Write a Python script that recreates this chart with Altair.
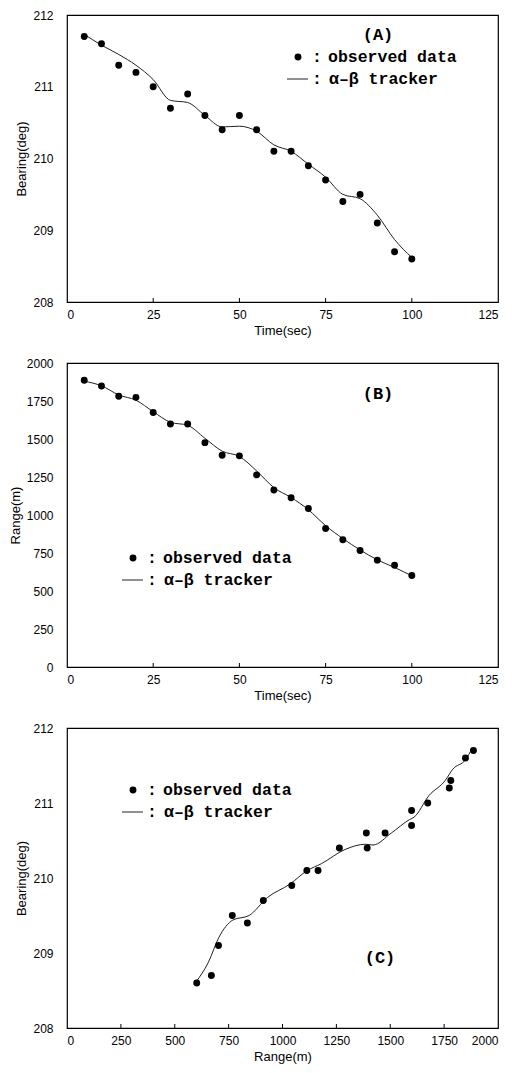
import altair as alt
import pandas as pd

# ---- data ----
time_s = [5, 10, 15, 20, 25, 30, 35, 40, 45, 50, 55, 60, 65, 70, 75, 80, 85, 90, 95, 100]
bearing_obs = [211.7, 211.6, 211.3, 211.2, 211.0, 210.7, 210.9, 210.6, 210.4, 210.6,
               210.4, 210.1, 210.1, 209.9, 209.7, 209.4, 209.5, 209.1, 208.7, 208.6]
range_obs = [1886, 1849, 1781, 1774, 1674, 1599, 1599, 1476, 1393, 1389,
             1264, 1165, 1113, 1043, 911, 837, 767, 703, 670, 602]
bearing_trk = [211.73, 211.58, 211.45, 211.30, 211.10, 210.81, 210.78, 210.60, 210.44, 210.45,
               210.38, 210.19, 210.10, 209.92, 209.74, 209.50, 209.44, 209.21, 208.87, 208.62]
range_trk = [1880, 1850, 1790, 1755, 1680, 1610, 1590, 1505, 1420, 1385,
             1290, 1180, 1115, 1035, 930, 845, 770, 705, 655, 600]

time_ticks = [0, 25, 50, 75, 100, 125]
bearing_ticks = [208, 209, 210, 211, 212]
range_ticks = [0, 250, 500, 750, 1000, 1250, 1500, 1750, 2000]

legend_obs = "observed data"
legend_trk = "α–β tracker"

df = pd.DataFrame({
    "time": time_s,
    "bearing_obs": bearing_obs,
    "range_obs": range_obs,
    "bearing_trk": bearing_trk,
    "range_trk": range_trk,
})

W = 431
AX_FONT = "Liberation Sans"
LEG_FONT = "Liberation Mono"
LEG_SIZE = 16.5


def one(text):
    return pd.DataFrame({"t": [text]})


def panel(xo, yo, xt, yt, xdom, ydom, xticks, yticks, xtitle, ytitle, h,
          leg, tag, tag_pos):
    xs = alt.Scale(domain=xdom, nice=False, zero=False)
    ys = alt.Scale(domain=ydom, nice=False, zero=False)
    xax = alt.Axis(values=xticks, format="d", title=xtitle)
    yax = alt.Axis(values=yticks, format="d", title=ytitle)
    base = alt.Chart(df)
    line = base.mark_line(color="#222222", strokeWidth=1, interpolate="monotone").encode(
        x=alt.X(f"{xt}:Q", scale=xs, axis=xax),
        y=alt.Y(f"{yt}:Q", scale=ys, axis=yax),
        order=alt.Order("time:Q"),
    )
    pts = base.mark_circle(color="black", opacity=1, size=48).encode(
        x=alt.X(f"{xo}:Q", scale=xs, axis=xax),
        y=alt.Y(f"{yo}:Q", scale=ys, axis=yax),
    )
    tick_df = pd.DataFrame({"v": xticks[1:-1]})
    ticks = alt.Chart(tick_df).mark_rule(color="black", strokeWidth=1).encode(
        x=alt.X("v:Q", scale=xs, axis=xax), y=alt.value(h), y2=alt.value(h - 4))
    lx, ly = leg
    dot = alt.Chart(one("dot")).mark_circle(color="black", opacity=1, size=48).encode(
        x=alt.value(lx + 11), y=alt.value(ly))
    seg = alt.Chart(one("seg")).mark_rule(color="#222222", strokeWidth=1).encode(
        x=alt.value(lx), x2=alt.value(lx + 21), y=alt.value(ly + 22))
    txt = dict(font=LEG_FONT, fontSize=LEG_SIZE, fontWeight="bold", baseline="middle",
               color="black")
    colon1 = alt.Chart(one(":")).mark_text(align="center", **txt).encode(
        text="t:N", x=alt.value(lx + 30), y=alt.value(ly))
    colon2 = alt.Chart(one(":")).mark_text(align="center", **txt).encode(
        text="t:N", x=alt.value(lx + 30), y=alt.value(ly + 22))
    t1 = alt.Chart(one(legend_obs)).mark_text(align="left", **txt).encode(
        text="t:N", x=alt.value(lx + 41), y=alt.value(ly))
    t2 = alt.Chart(one(legend_trk)).mark_text(align="left", **txt).encode(
        text="t:N", x=alt.value(lx + 42), y=alt.value(ly + 22))
    lab = alt.Chart(one(tag)).mark_text(font=LEG_FONT, fontSize=17, fontWeight="bold",
                                        align="center", baseline="middle",
                                        color="black").encode(
        text="t:N", x=alt.value(tag_pos[0]), y=alt.value(tag_pos[1]))
    return alt.layer(line, pts, ticks, dot, seg, colon1, colon2, t1, t2, lab).properties(
        width=W, height=h)


pA = panel("time", "bearing_obs", "time", "bearing_trk", [0, 125], [208, 212],
           time_ticks, bearing_ticks, "Time(sec)", "Bearing(deg)", 287,
           (220, 42), "(A)", (311, 20))
pB = panel("time", "range_obs", "time", "range_trk", [0, 125], [0, 2000],
           time_ticks, range_ticks, "Time(sec)", "Range(m)", 304,
           (55, 195), "(B)", (311, 31))
pC = panel("range_obs", "bearing_obs", "range_trk", "bearing_trk", [0, 2000], [208, 212],
           range_ticks, bearing_ticks, "Range(m)", "Bearing(deg)", 300,
           (55, 62), "(C)", (313, 230))

chart = alt.vconcat(pA, pB, pC, spacing=18).properties(
    padding={"left": 0, "top": 0, "right": 0, "bottom": 0},
    background="white",
).configure_view(
    stroke="black", strokeWidth=1.2,
).configure_axis(
    grid=False, domain=False, ticks=False,
    labelFont=AX_FONT, labelFontSize=12, labelColor="black",
    titleFont=AX_FONT, titleFontSize=13, titleFontWeight="normal", titleColor="black",
).configure_axisY(
    labelPadding=14, titlePadding=4,
).configure_axisX(
    labelPadding=7, titlePadding=4,
)

chart.save("out.html", embed_options={"renderer": "svg", "actions": False})
